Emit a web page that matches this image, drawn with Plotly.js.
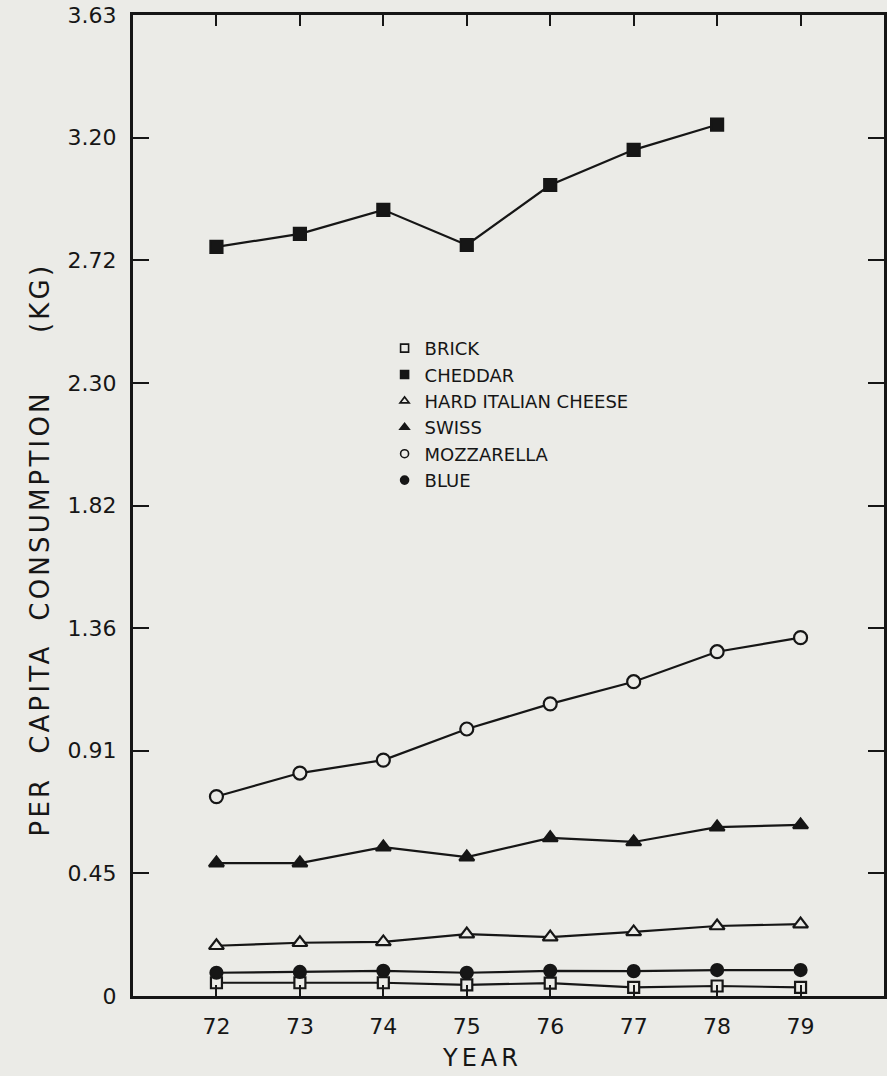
<!DOCTYPE html>
<html>
<head>
<meta charset="utf-8">
<script src="https://cdn.plot.ly/plotly-3.0.1.min.js"></script>
<style>
  html, body { margin: 0; padding: 0; background: #ebebe7; }
  #chart { width: 887px; height: 1076px; }
</style>
</head>
<body>
<div id="chart"></div>
<script>
// Years (19xx)
const years = [72, 73, 74, 75, 76, 77, 78, 79];

// Per capita consumption (kg)
const brick      = [0.049, 0.049, 0.049, 0.041, 0.048, 0.032, 0.037, 0.032];
const cheddar    = [2.772, 2.820, 2.909, 2.779, 3.001, 3.131, 3.224, null];
const hardItalian= [0.186, 0.197, 0.200, 0.229, 0.218, 0.237, 0.259, 0.266];
const swiss      = [0.492, 0.492, 0.551, 0.514, 0.585, 0.570, 0.625, 0.633];
const mozzarella = [0.738, 0.825, 0.873, 0.988, 1.081, 1.163, 1.274, 1.326];
const blue       = [0.086, 0.089, 0.093, 0.086, 0.093, 0.092, 0.096, 0.096];

// Y tick labels (kg equivalents of whole pounds)
const yTickText = ["0", "0.45", "0.91", "1.36", "1.82", "2.30", "2.72", "3.20", "3.63"];
const yMax = 3.63;
const yTickVals = yTickText.map((t, i) => i * yMax / (yTickText.length - 1));

const seriesNames = ["BRICK", "CHEDDAR", "HARD ITALIAN CHEESE", "SWISS", "MOZZARELLA", "BLUE"];
const seriesData  = [brick, cheddar, hardItalian, swiss, mozzarella, blue];

const BG = '#ebebe7';
const INK = '#161616';
const FONT = 'DejaVu Sans, sans-serif';

const styles = [
  {symbol: 'square',      fill: BG,  size: 11},
  {symbol: 'square',      fill: INK, size: 12},
  {symbol: 'triangle-up', fill: BG,  size: 13},
  {symbol: 'triangle-up', fill: INK, size: 13},
  {symbol: 'circle',      fill: BG,  size: 13},
  {symbol: 'circle',      fill: INK, size: 12}
];

const traces = [];
seriesData.forEach((d, i) => {
  traces.push({
    x: years, y: d, type: 'scatter', mode: 'lines+markers',
    name: seriesNames[i], showlegend: false,
    line: {color: INK, width: 2.2},
    marker: {symbol: styles[i].symbol, size: styles[i].size, color: styles[i].fill,
             line: {color: INK, width: 2.2}},
    cliponaxis: false, hoverinfo: 'skip'
  });
});
// Legend entries (markers only)
seriesNames.forEach((n, i) => {
  traces.push({
    x: [null], y: [null], type: 'scatter', mode: 'markers', name: n,
    marker: {symbol: styles[i].symbol, size: 8, color: styles[i].fill,
             line: {color: INK, width: 1.6}}
  });
});

const layout = {
  width: 887, height: 1076,
  paper_bgcolor: BG, plot_bgcolor: BG,
  margin: {l: 133, r: 3, t: 15, b: 80},
  font: {family: FONT, color: INK},
  showlegend: true,
  legend: {
    x: 0.335, y: 0.679, xanchor: 'left', yanchor: 'top',
    bgcolor: 'rgba(0,0,0,0)', borderwidth: 0,
    font: {family: FONT, size: 18, color: INK},
    itemwidth: 30, tracegroupgap: 0
  },
  xaxis: {
    range: [71, 80], tickvals: years, ticktext: years.map(String),
    ticks: 'inside', ticklen: 11, tickwidth: 2, tickcolor: INK,
    showline: true, linewidth: 3, linecolor: INK, mirror: 'ticks',
    showgrid: false, zeroline: false,
    tickfont: {family: FONT, size: 22, color: INK},
    ticklabelstandoff: 9
  },
  yaxis: {
    range: [0, yMax], tickvals: yTickVals, ticktext: yTickText,
    ticks: 'inside', ticklen: 16, tickwidth: 2, tickcolor: INK,
    showline: true, linewidth: 3, linecolor: INK, mirror: 'ticks',
    showgrid: false, zeroline: false,
    tickfont: {family: FONT, size: 22, color: INK},
    ticklabelstandoff: 9
  },
  annotations: [
    {text: 'YEAR', xref: 'paper', yref: 'paper', x: 0.465, y: 0,
     yshift: -62, xanchor: 'center', yanchor: 'middle', showarrow: false,
     font: {family: FONT, size: 24, color: INK}},
    {text: 'PER\u00a0\u00a0CAPITA\u00a0\u00a0CONSUMPTION\u00a0\u00a0\u00a0\u00a0\u00a0(KG)',
     xref: 'paper', yref: 'paper', x: 0, y: 0.455, xshift: -93,
     xanchor: 'center', yanchor: 'middle', textangle: -90, showarrow: false,
     font: {family: FONT, size: 26, color: INK}}
  ]
};

Plotly.newPlot('chart', traces, layout, {staticPlot: true, displayModeBar: false}).then(gd => {
  // Wide hand-lettered look: add letter spacing to the axis titles
  const ann = gd.querySelectorAll('.annotation-text');
  if (ann[0]) ann[0].style.letterSpacing = '4px';
  if (ann[1]) ann[1].style.letterSpacing = '3.2px';
});
</script>
</body>
</html>
